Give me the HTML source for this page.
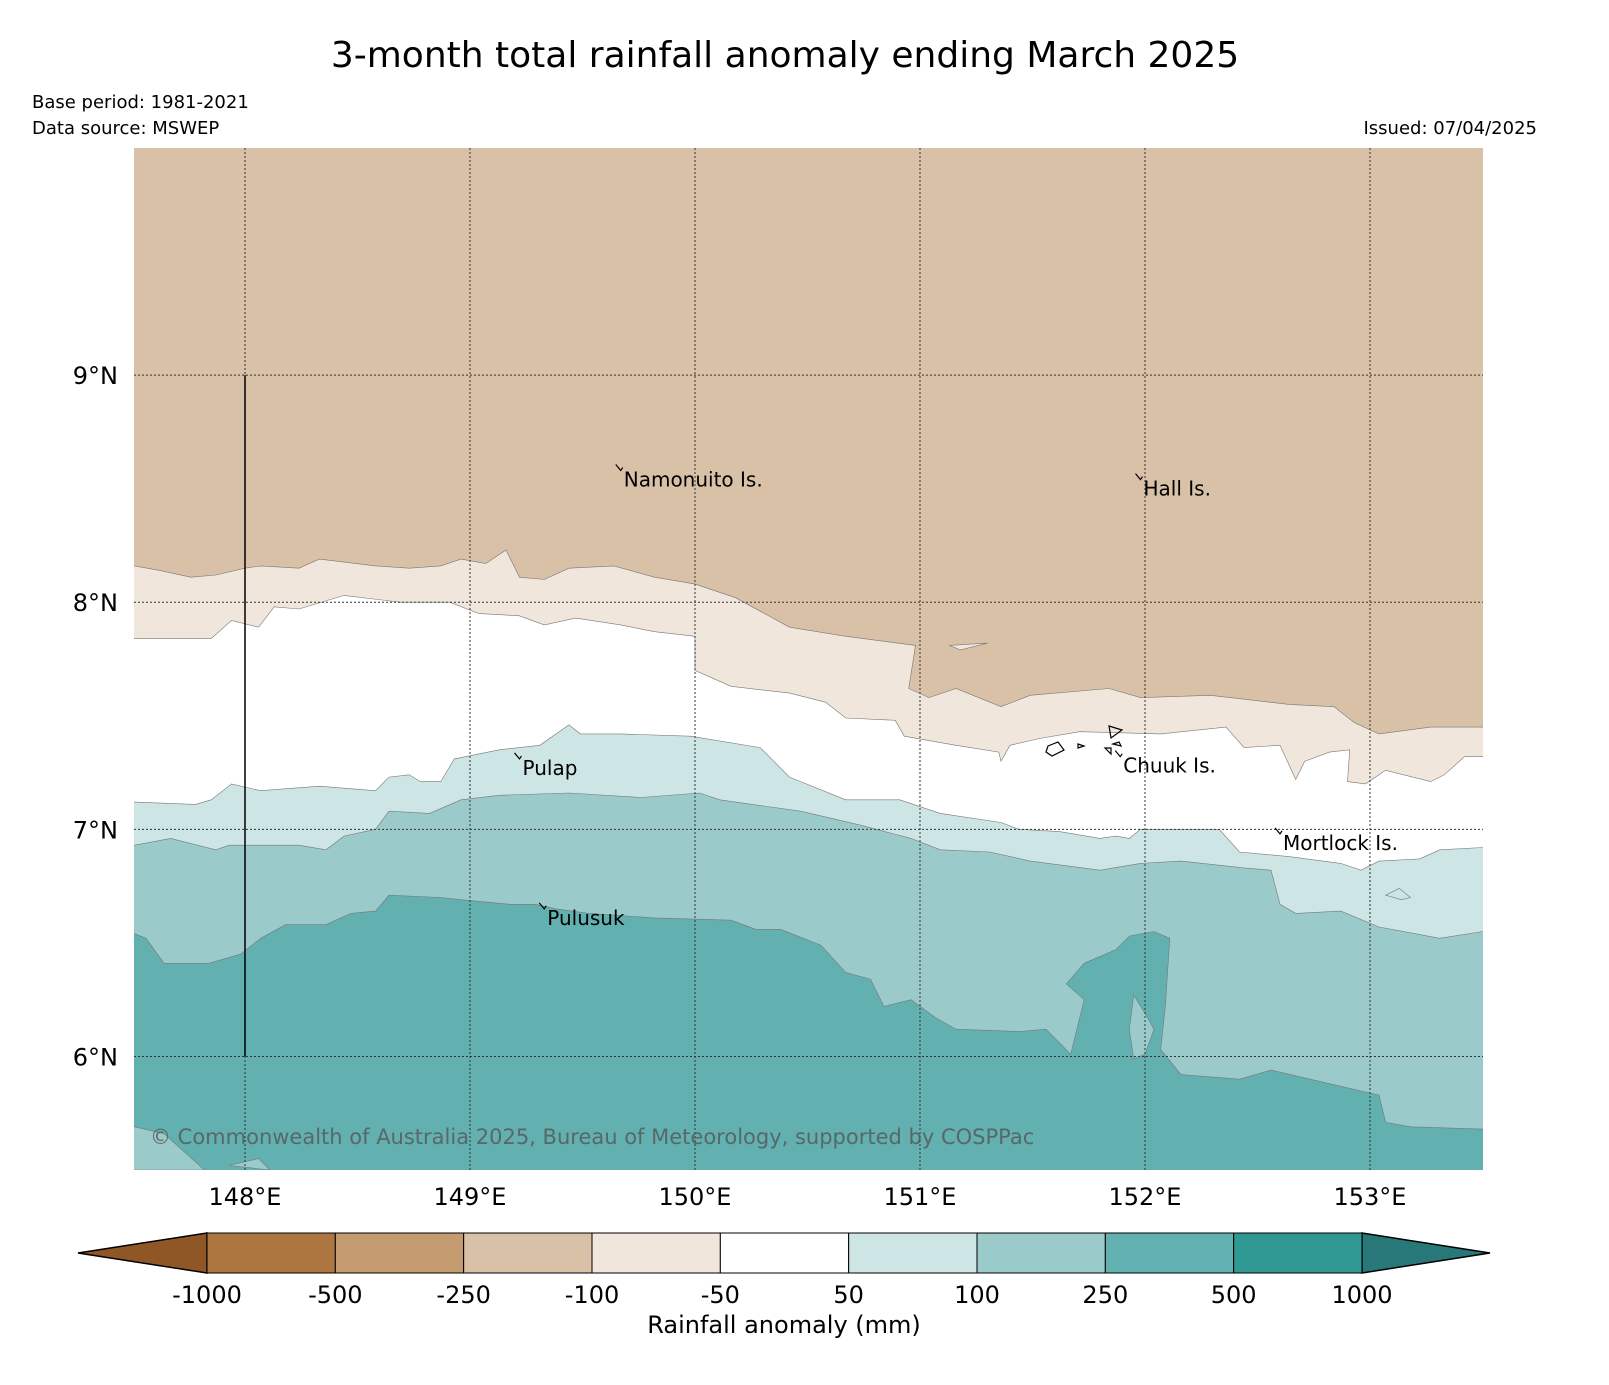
<!DOCTYPE html>
<html><head><meta charset="utf-8"><style>
body{margin:0;background:#fff;}
svg text{font-family:"DejaVu Sans","Liberation Sans",sans-serif;}
</style></head><body>
<svg id="chart" width="1609" height="1380" viewBox="0 0 1609 1380" xmlns="http://www.w3.org/2000/svg">
<text x="785" y="67" font-size="36" text-anchor="middle">3-month total rainfall anomaly ending March 2025</text>
<text x="32" y="108" font-size="18">Base period: 1981-2021</text>
<text x="32" y="134" font-size="18">Data source: MSWEP</text>
<text x="1537" y="134" font-size="18" text-anchor="end">Issued: 07/04/2025</text>
<defs><clipPath id="mapclip"><rect x="134" y="148" width="1349" height="1022"/></clipPath></defs>
<g id="map" clip-path="url(#mapclip)"></g>
<g id="overlay"></g>
<g id="cbar"></g>
</svg>
<script>
const lonRange=[147.5,153.5], latRange=[5.5,10.0];
const lonTicks=[148,149,150,151,152,153];
const latTicks=[6,7,8,9];
const bandColors=['#d9c1a8','#f0e6dc','#ffffff','#cde5e4','#9bcaca','#63b0b0'];
const boundA=[[147.51,8.16],[147.62,8.14],[147.76,8.11],[147.87,8.12],[148.00,8.15],[148.07,8.16],[148.24,8.15],[148.33,8.19],[148.58,8.16],[148.73,8.15],[148.87,8.16],[148.96,8.19],[149.07,8.17],[149.16,8.23],[149.22,8.11],[149.33,8.10],[149.44,8.15],[149.64,8.16],[149.82,8.11],[150.00,8.08],[150.18,8.02],[150.42,7.89],[150.67,7.85],[150.98,7.81],[150.95,7.62],[151.04,7.58],[151.16,7.62],[151.36,7.54],[151.49,7.59],[151.84,7.62],[151.98,7.58],[152.29,7.59],[152.64,7.55],[152.84,7.54],[152.93,7.47],[153.04,7.42],[153.27,7.45],[153.50,7.45]];
const boundB=[[147.51,7.84],[147.85,7.84],[147.94,7.92],[148.06,7.89],[148.13,7.98],[148.24,7.97],[148.44,8.03],[148.69,8.00],[148.91,8.00],[149.04,7.95],[149.22,7.94],[149.33,7.90],[149.47,7.93],[149.67,7.90],[149.82,7.87],[150.00,7.85],[150.00,7.70],[150.16,7.63],[150.42,7.60],[150.58,7.56],[150.67,7.49],[150.89,7.48],[150.93,7.41],[151.16,7.37],[151.35,7.34],[151.36,7.30],[151.40,7.37],[151.53,7.40],[151.71,7.43],[152.07,7.42],[152.36,7.45],[152.44,7.36],[152.60,7.37],[152.67,7.22],[152.71,7.30],[152.82,7.34],[152.91,7.35],[152.90,7.21],[152.98,7.20],[153.07,7.26],[153.27,7.21],[153.33,7.24],[153.42,7.32],[153.50,7.32]];
const boundC=[[147.51,7.12],[147.78,7.11],[147.85,7.13],[147.94,7.20],[148.07,7.17],[148.33,7.19],[148.58,7.17],[148.64,7.23],[148.73,7.24],[148.78,7.21],[148.87,7.21],[148.93,7.31],[149.13,7.35],[149.31,7.37],[149.44,7.46],[149.49,7.42],[149.67,7.42],[149.98,7.41],[150.29,7.36],[150.42,7.23],[150.47,7.21],[150.67,7.13],[150.91,7.13],[151.09,7.07],[151.36,7.03],[151.44,7.00],[151.62,6.99],[151.80,6.96],[151.87,6.97],[151.93,6.96],[151.98,7.00],[152.33,7.00],[152.42,6.90],[152.64,6.88],[152.87,6.85],[152.96,6.82],[153.04,6.86],[153.22,6.87],[153.31,6.91],[153.50,6.92]];
const boundD=[[147.51,6.93],[147.67,6.96],[147.87,6.91],[147.93,6.93],[148.24,6.93],[148.36,6.91],[148.44,6.97],[148.58,7.00],[148.64,7.08],[148.82,7.07],[148.96,7.13],[149.13,7.15],[149.44,7.16],[149.76,7.14],[150.02,7.16],[150.11,7.13],[150.47,7.08],[150.73,7.02],[150.96,6.96],[151.09,6.91],[151.31,6.90],[151.49,6.86],[151.80,6.82],[151.98,6.85],[152.16,6.86],[152.44,6.83],[152.56,6.82],[152.60,6.67],[152.67,6.63],[152.87,6.64],[153.04,6.57],[153.31,6.52],[153.50,6.55]];
const boundE=[[147.51,6.54],[147.56,6.52],[147.64,6.41],[147.84,6.41],[147.98,6.45],[148.07,6.52],[148.18,6.58],[148.36,6.58],[148.47,6.63],[148.58,6.64],[148.64,6.71],[148.87,6.70],[148.96,6.69],[149.18,6.67],[149.29,6.67],[149.38,6.65],[149.53,6.63],[149.82,6.61],[150.16,6.60],[150.27,6.56],[150.38,6.56],[150.56,6.49],[150.67,6.37],[150.78,6.34],[150.84,6.22],[150.96,6.25],[151.07,6.17],[151.16,6.12],[151.44,6.11],[151.56,6.12],[151.67,6.01],[151.73,6.25],[151.65,6.32],[151.73,6.41],[151.87,6.47],[151.93,6.53],[152.04,6.55],[152.11,6.52],[152.09,6.22],[152.07,6.03],[152.16,5.92],[152.42,5.90],[152.56,5.94],[152.82,5.88],[153.04,5.83],[153.07,5.71],[153.18,5.69],[153.50,5.68]];
const patchTongue=[[151.95,6.27],[152.00,6.19],[152.04,6.12],[152.00,6.01],[151.95,5.99],[151.93,6.12]];
const patchBL1=[[147.45,5.69],[147.51,5.69],[147.64,5.66],[147.82,5.50],[147.45,5.50]];
const patchBL2=[[147.93,5.52],[148.06,5.55],[148.11,5.50]];
const patchLight=[[153.07,6.71],[153.13,6.74],[153.18,6.70],[153.14,6.69]];
const patchBeige=[[151.13,7.81],[151.30,7.82],[151.18,7.79]];
const placeNames=['Namonuito Is.','Hall Is.','Pulap','Chuuk Is.','Mortlock Is.','Pulusuk'];
const placeLon=[149.67,151.98,149.22,151.89,152.60,149.33];
const placeLat=[8.58,8.54,7.31,7.32,6.98,6.65];
const cbarLabels=['-1000','-500','-250','-100','-50','50','100','250','500','1000'];
const cbarColors=['#ad7640','#c49a6f','#d9c1a8','#f0e6dc','#ffffff','#cde5e4','#9bcaca','#63b0b0','#2f9892'];

const X0=132.5,X1=1482.5,Y0=1170,Y1=148;
const px=lon=>X0+(lon-lonRange[0])/(lonRange[1]-lonRange[0])*(X1-X0);
const py=lat=>Y0-(lat-latRange[0])/(latRange[1]-latRange[0])*(Y0-Y1);
const NS='http://www.w3.org/2000/svg';
const map=document.getElementById('map'),ov=document.getElementById('overlay'),cb=document.getElementById('cbar');
function mk(tag,parent,attrs){const e=document.createElementNS(NS,tag);for(const k in attrs)e.setAttribute(k,attrs[k]);parent.appendChild(e);return e;}
const bg=mk('rect',map,{x:134,y:148,width:1349,height:1022,fill:bandColors[0]});


const bounds=[boundA,boundB,boundC,boundD,boundE];
const bandNames=['band-minus100-minus50','band-minus50-50','band-50-100','band-100-250','band-250-500'];
function ptsStr(arr){return arr.map(p=>px(p[0]).toFixed(1)+','+py(p[1]).toFixed(1)).join(' ');}
bounds.forEach((b,i)=>{
  const pts=ptsStr(b)+' '+px(153.6)+','+py(b[b.length-1][1])+' '+px(153.6)+','+py(5.4)+' '+px(147.4)+','+py(5.4)+' '+px(147.4)+','+py(b[0][1]);
  const p=mk('polygon',map,{points:pts,fill:bandColors[i+1],stroke:'#777','stroke-width':0.6});
  
  
});
[[patchTongue,bandColors[4]],[patchBL1,bandColors[4]],[patchBL2,bandColors[4]],[patchLight,bandColors[3]],[patchBeige,bandColors[1]]].forEach((pp,i)=>{
  const p=mk('polygon',map,{points:ptsStr(pp[0]),fill:pp[1],stroke:'#777','stroke-width':0.6});
  
  
});
lonTicks.forEach(l=>{
  const g=mk('line',map,{x1:px(l),x2:px(l),y1:148,y2:1170,stroke:'#333','stroke-width':1,'stroke-dasharray':'2,2'});
  
  
  const t=mk('text',ov,{x:px(l),y:1205,'font-size':24,'text-anchor':'middle'});t.textContent=l+'°E';
  
  
});
latTicks.forEach(l=>{
  const g=mk('line',map,{x1:134,x2:1483,y1:py(l),y2:py(l),stroke:'#333','stroke-width':1,'stroke-dasharray':'2,2'});
  
  
  const t=mk('text',ov,{x:118,y:py(l)+9,'font-size':24,'text-anchor':'end'});t.textContent=l+'°N';
  
  
});
const vl=mk('line',map,{x1:px(148),x2:px(148),y1:py(9),y2:py(6),stroke:'#000','stroke-width':1.5});


placeNames.forEach((n,i)=>{
  const x=px(placeLon[i]),y=py(placeLat[i]);
  const m=mk('path',map,{d:`M${x-5},${y-6} L${x},${y} L${x+2},${y-3}`,fill:'none',stroke:'#000','stroke-width':1.2});
  
  
  const t=mk('text',map,{x:x+3,y:y+16,'font-size':20});t.textContent=n;
  
  
});
const ch=mk('path',map,{d:'M1109,726 L1122,730 L1111,738 Z M1048,746 l10,-4 l6,8 l-12,6 l-6,-4 Z M1078,744 l6,2 l-6,2 Z M1105,748 l6,0 l0,6 Z M1113,744 l6,-2 l2,4 Z',fill:'none',stroke:'#000','stroke-width':1.2});


const cp=mk('text',map,{x:150,y:1144,'font-size':21,fill:'#555','fill-opacity':0.8});cp.textContent='© Commonwealth of Australia 2025, Bureau of Meteorology, supported by COSPPac';


// colorbar
const cbX0=207,cbX1=1362,cbY=1233,cbH=40,w=(cbX1-cbX0)/cbarColors.length;
const la=mk('polygon',cb,{points:`78,1253 ${cbX0},${cbY} ${cbX0},${cbY+cbH}`,fill:'#8f5726',stroke:'#000','stroke-width':1.5});


const ra=mk('polygon',cb,{points:`1490,1253 ${cbX1},${cbY} ${cbX1},${cbY+cbH}`,fill:'#28787a',stroke:'#000','stroke-width':1.5});


cbarColors.forEach((c,i)=>{
  const r=mk('rect',cb,{x:cbX0+i*w,y:cbY,width:w,height:cbH,fill:c,stroke:'#000','stroke-width':1});
  
  
});
cbarLabels.forEach((l,i)=>{
  const t=mk('text',cb,{x:cbX0+i*w,y:1303,'font-size':24,'text-anchor':'middle'});t.textContent=l;
  
  
});
const ct=mk('text',cb,{x:784,y:1333,'font-size':24,'text-anchor':'middle'});ct.textContent='Rainfall anomaly (mm)';


</script>
</body></html>
